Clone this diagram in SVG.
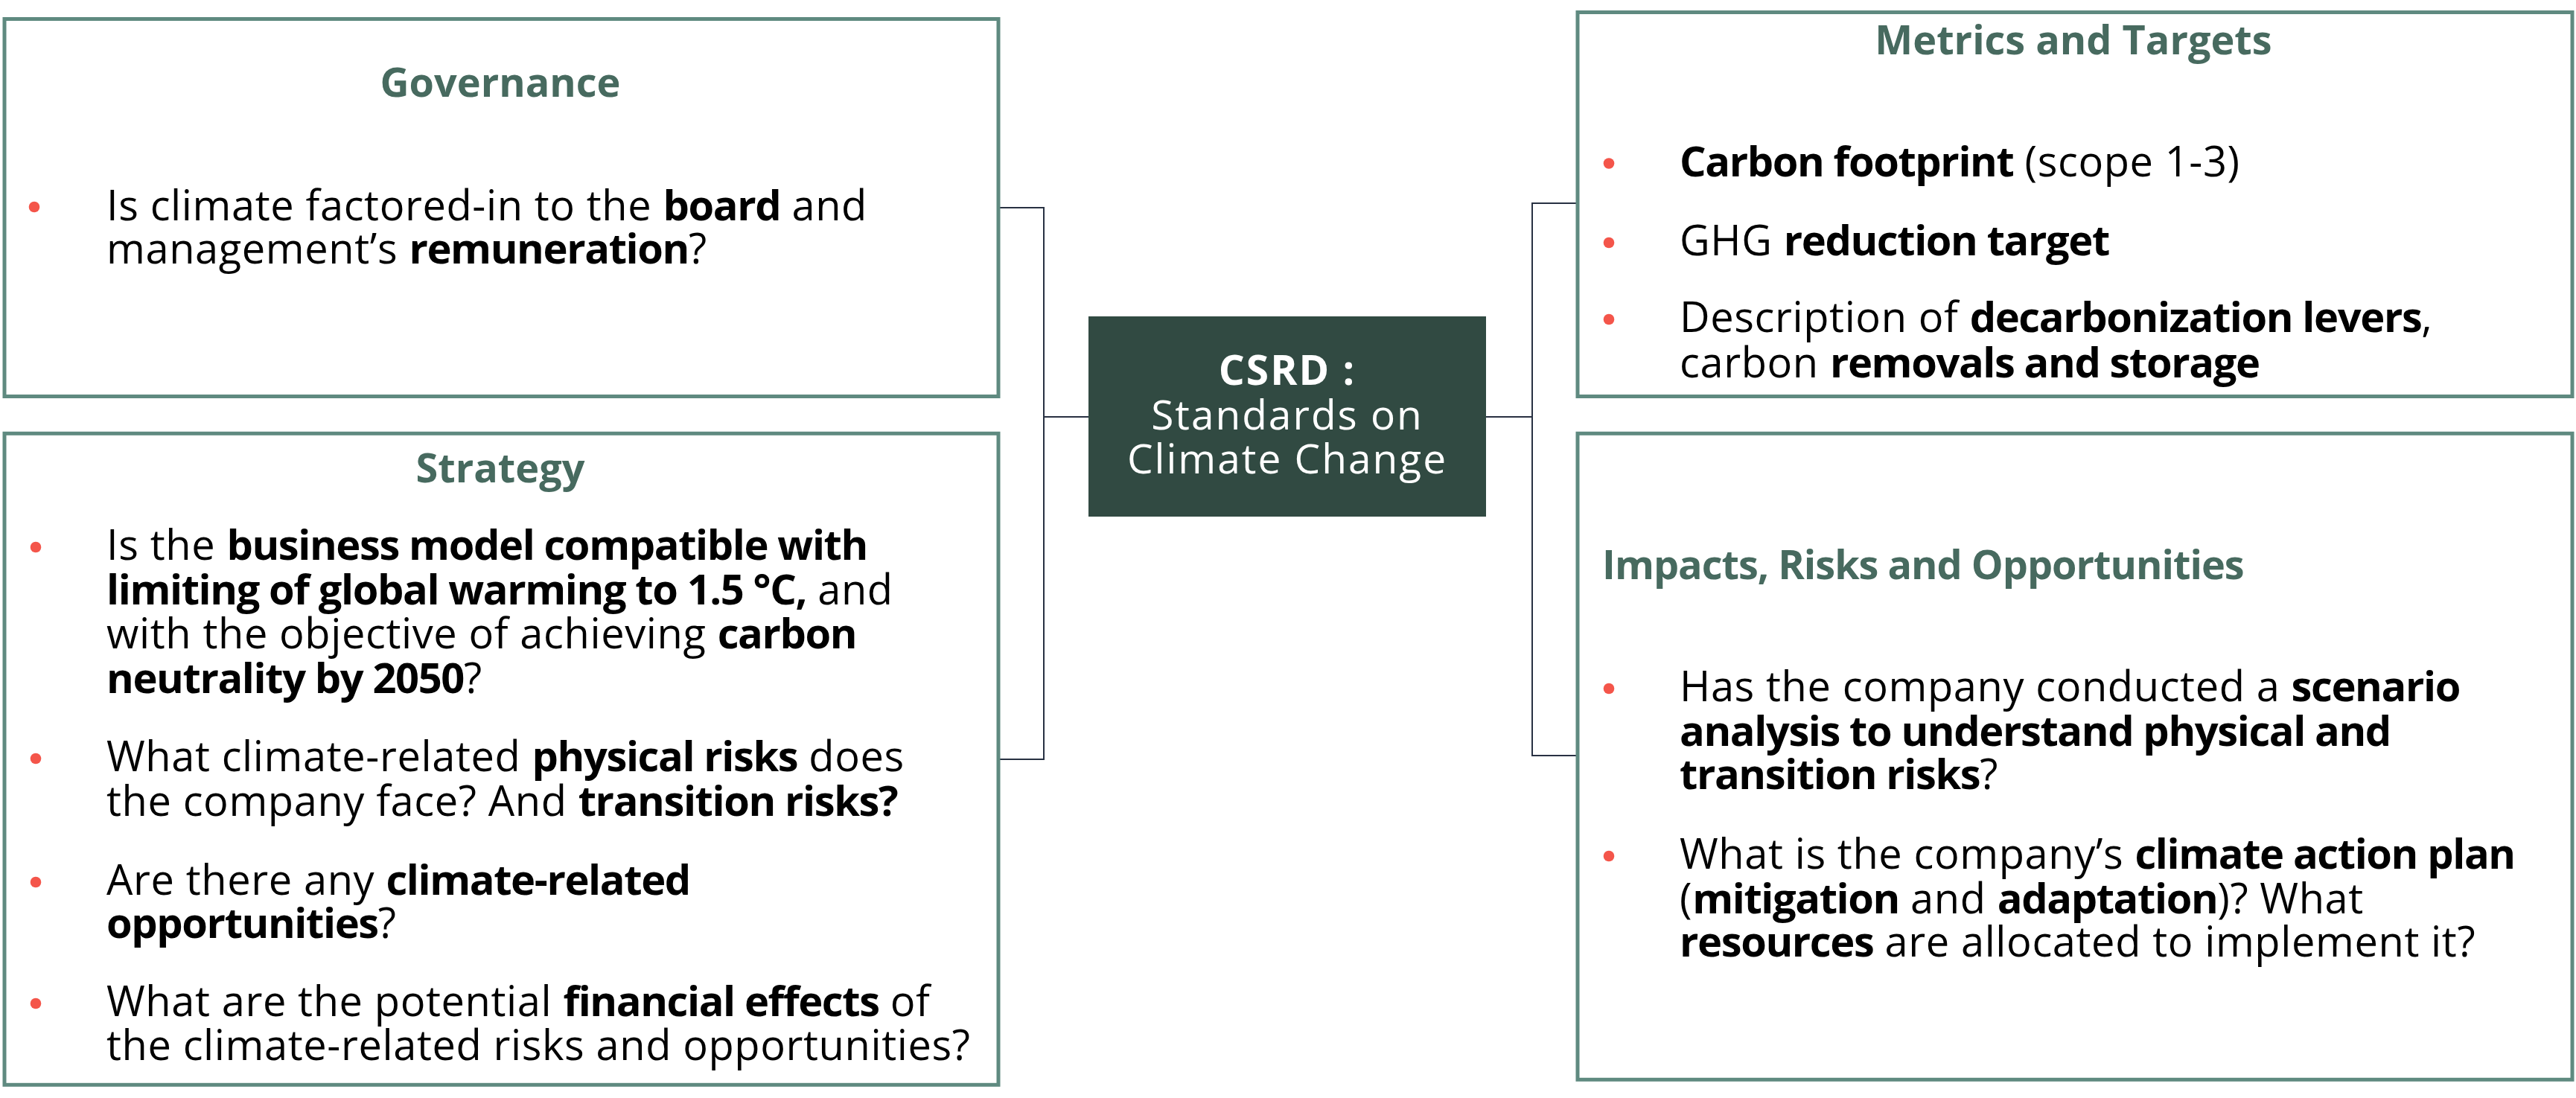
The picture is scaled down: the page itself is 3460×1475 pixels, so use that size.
<svg xmlns="http://www.w3.org/2000/svg" width="3460" height="1475" viewBox="0 0 3460 1475">
<style>
.box{fill:#ffffff;stroke:#5f8a80;stroke-width:5}
.title{font-family:"Open Sans","Liberation Sans",sans-serif;font-weight:700;font-size:54px;fill:#476a5f}
.body{font-family:"Open Sans","Liberation Sans",sans-serif;font-size:56px;fill:#000000;letter-spacing:0.6px}
.b{font-weight:700;letter-spacing:-1.4px}
.dot{fill:#f4554a}
.conn{fill:none;stroke:#283142;stroke-width:2}
.ctr{font-family:"Open Sans","Liberation Sans",sans-serif;font-size:55px;fill:#ffffff;text-anchor:middle;letter-spacing:2px}
</style>
<rect width="3460" height="1475" fill="#ffffff"/>
<g id="connectors">
<polyline class="conn" points="1341,279 1402,279 1402,1020 1341,1020"/>
<line class="conn" x1="1402" y1="560" x2="1462" y2="560"/>
<polyline class="conn" points="2119,273 2058,273 2058,1015 2119,1015"/>
<line class="conn" x1="1996" y1="560" x2="2058" y2="560"/>
</g>
<g id="governance">
<rect class="box" x="6" y="25.5" width="1335" height="507"/>
<text class="title" x="672" y="130" text-anchor="middle">Governance</text>
<circle class="dot" cx="46" cy="278" r="7.3"/>
<text class="body"><tspan x="143" y="296">Is climate factored-in to the <tspan class="b">board</tspan> and</tspan><tspan x="143" y="354">management’s <tspan class="b">remuneration</tspan>?</tspan></text>
</g>
<g id="strategy">
<rect class="box" x="6" y="582.3" width="1335" height="875"/>
<text class="title" x="672" y="648" text-anchor="middle">Strategy</text>
<circle class="dot" cx="48" cy="735" r="7.3"/>
<text class="body"><tspan x="143" y="752">Is the <tspan class="b">business model compatible with</tspan></tspan><tspan x="143" y="812"><tspan class="b">limiting of global warming to 1.5 °C,</tspan> and</tspan><tspan x="143" y="871">with the objective of achieving <tspan class="b">carbon</tspan></tspan><tspan x="143" y="931"><tspan class="b">neutrality by 2050</tspan>?</tspan></text>
<circle class="dot" cx="48" cy="1019" r="7.3"/>
<text class="body"><tspan x="143" y="1036">What climate-related <tspan class="b">physical risks</tspan> does</tspan><tspan x="143" y="1096">the company face? And <tspan class="b">transition risks?</tspan></tspan></text>
<circle class="dot" cx="48" cy="1185" r="7.3"/>
<text class="body"><tspan x="143" y="1202">Are there any <tspan class="b">climate-related</tspan></tspan><tspan x="143" y="1260"><tspan class="b">opportunities</tspan>?</tspan></text>
<circle class="dot" cx="48" cy="1348" r="7.3"/>
<text class="body"><tspan x="143" y="1365">What are the potential <tspan class="b">financial effects</tspan> of</tspan><tspan x="143" y="1424">the climate-related risks and opportunities?</tspan></text>
</g>
<g id="csrd">
<rect x="1462" y="425" width="534" height="269" fill="#314a42"/>
<text class="ctr"><tspan x="1729" y="517" font-weight="700">CSRD :</tspan><tspan x="1729" y="577">Standards on</tspan><tspan x="1729" y="636">Climate Change</tspan></text>
</g>
<g id="metrics">
<rect class="box" x="2119" y="16.5" width="1336" height="516"/>
<text class="title" x="2785" y="73" text-anchor="middle">Metrics and Targets</text>
<circle class="dot" cx="2161" cy="219.5" r="7.3"/>
<text class="body" x="2256" y="237"><tspan class="b">Carbon footprint</tspan> (scope 1-3)</text>
<circle class="dot" cx="2161" cy="326" r="7.3"/>
<text class="body" x="2256" y="343">GHG <tspan class="b">reduction target</tspan></text>
<circle class="dot" cx="2161" cy="429" r="7.3"/>
<text class="body"><tspan x="2256" y="446">Description of <tspan class="b">decarbonization levers</tspan>,</tspan><tspan x="2256" y="507">carbon <tspan class="b">removals and storage</tspan></tspan></text>
</g>
<g id="impacts">
<rect class="box" x="2119" y="582.3" width="1336" height="868"/>
<text class="title" x="2152" y="778" letter-spacing="-1px">Impacts, Risks and Opportunities</text>
<circle class="dot" cx="2161" cy="925" r="7.3"/>
<text class="body"><tspan x="2256" y="942">Has the company conducted a <tspan class="b">scenario</tspan></tspan><tspan x="2256" y="1002"><tspan class="b">analysis to understand physical and</tspan></tspan><tspan x="2256" y="1060"><tspan class="b">transition risks</tspan>?</tspan></text>
<circle class="dot" cx="2161" cy="1150" r="7.3"/>
<text class="body"><tspan x="2256" y="1167">What is the company’s <tspan class="b">climate action plan</tspan></tspan><tspan x="2256" y="1227">(<tspan class="b">mitigation</tspan> and <tspan class="b">adaptation</tspan>)? What</tspan><tspan x="2256" y="1285"><tspan class="b">resources</tspan> are allocated to implement it?</tspan></text>
</g>
</svg>
